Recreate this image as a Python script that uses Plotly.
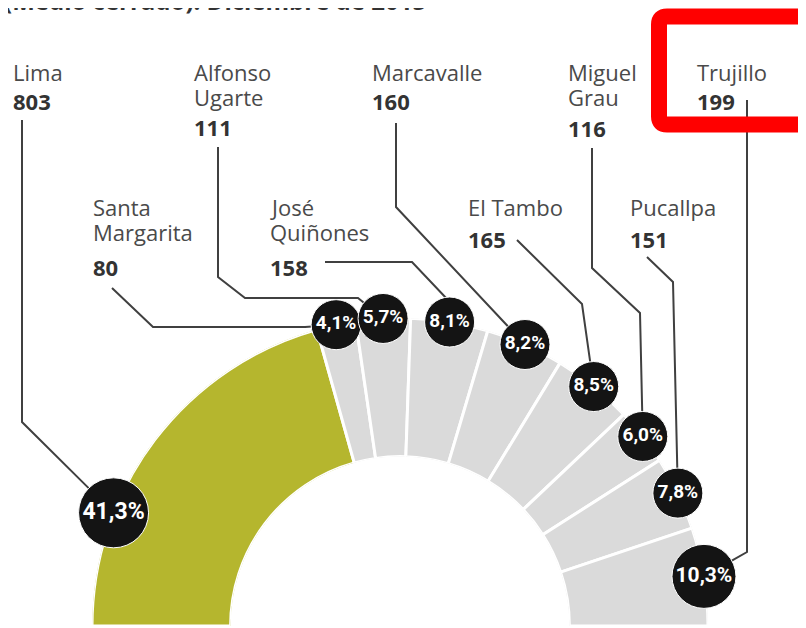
import math
import plotly.graph_objects as go

# Oficinas "Medio cerrado", diciembre de 2015
offices = ["Lima", "Santa Margarita", "Alfonso Ugarte", "José Quiñones", "Marcavalle",
           "El Tambo", "Miguel Grau", "Pucallpa", "Trujillo"]
name_lines = [["Lima"], ["Santa", "Margarita"], ["Alfonso", "Ugarte"], ["José", "Quiñones"],
              ["Marcavalle"], ["El Tambo"], ["Miguel", "Grau"], ["Pucallpa"], ["Trujillo"]]
counts = [803, 80, 111, 158, 160, 165, 116, 151, 199]
shares = [41.3, 4.1, 5.7, 8.1, 8.2, 8.5, 6.0, 7.8, 10.3]

W, H = 806, 628
PAD = 8  # the page body margin shifts the figure by this much
# donut geometry in page pixels (centre sits on the bottom edge)
CX, CY, RAD = 400, 626, 308
GREEN = "#b5b62e"
GREY = "#dadada"

share_text = [f"<b>{s:.1f}%</b>".replace(".", ",") for s in shares]
deg = [s * 1.8 for s in shares]
starts = [sum(deg[:i]) for i in range(len(deg))]
# where along its slice each badge sits
badge_frac = [0.29, 0.5, 0.5, 0.5, 0.5, 0.5, 0.5, 0.5, 0.5]
badge_theta = [a + d * f for a, d, f in zip(starts, deg, badge_frac)]
badge_size = [70, 50, 50, 50, 50, 50, 50, 50, 64]
badge_font = [23, 19, 19, 19, 19, 19, 19, 19, 21]

# label placement (page px): x, first name line y, number y, leader route before the badge
label_pos = {
    "Lima": (13, 72, 101, [(22, 120), (22, 422)]),
    "Santa Margarita": (93, 207, 267, [(112, 288), (153, 327), (305, 327)]),
    "Alfonso Ugarte": (194, 72, 127, [(218, 147), (218, 277), (245, 298), (358, 298)]),
    "José Quiñones": (270, 207, 267, [(325, 262), (412, 262), (448, 300)]),
    "Marcavalle": (372, 72, 101, [(396, 123), (396, 207)]),
    "El Tambo": (468, 207, 239, [(517, 240), (582, 304)]),
    "Miguel Grau": (568, 72, 128, [(592, 148), (592, 268), (640, 313)]),
    "Pucallpa": (630, 207, 239, [(647, 257), (673, 282)]),
    "Trujillo": (697, 72, 101, [(747, 100), (747, 552)]),
}


def badge_xy(theta):
    a = math.radians(180 - theta)
    return CX + RAD * math.cos(a), CY - RAD * math.sin(a)


fig = go.Figure()

# leader lines, stopping at the badge rim
for office, th, sz in zip(offices, badge_theta, badge_size):
    route = label_pos[office][3]
    bx, by = badge_xy(th)
    lx, ly = route[-1]
    d = math.hypot(bx - lx, by - ly)
    k = (d - sz / 2 + 1) / d
    pts = route + [(lx + (bx - lx) * k, ly + (by - ly) * k)]
    fig.add_trace(go.Scatter(
        x=[p[0] for p in pts], y=[p[1] for p in pts],
        mode="lines", line=dict(color="#404040", width=2),
        hoverinfo="skip", showlegend=False,
    ))

fig.add_trace(go.Barpolar(
    r=[1] * len(shares),
    theta=[a + d / 2 for a, d in zip(starts, deg)],
    width=deg,
    marker=dict(color=[GREEN] + [GREY] * (len(shares) - 1),
                line=dict(color="white", width=3)),
    customdata=counts,
    text=offices,
    hovertemplate="%{text}: %{customdata}<extra></extra>",
    showlegend=False,
))

fig.add_trace(go.Scatterpolar(
    r=[1] * len(shares),
    theta=badge_theta,
    mode="markers+text",
    marker=dict(size=badge_size, color="#141414", opacity=1),
    text=share_text,
    textposition="middle center",
    textfont=dict(size=badge_font, color="white", family="Roboto"),
    cliponaxis=False,
    hoverinfo="skip",
    showlegend=False,
))

annotations = []
for office, lines, n in zip(offices, name_lines, counts):
    x, y0, yn, _ = label_pos[office]
    for i, ln in enumerate(lines):
        annotations.append(dict(
            x=x - 2, y=y0 + 25 * i, xref="x", yref="y", text=ln, showarrow=False,
            xanchor="left", yanchor="middle",
            font=dict(family="Open Sans", size=22, color="#4a4a4a"),
        ))
    annotations.append(dict(
        x=x - 2, y=yn, xref="x", yref="y", text=f"<b>{n}</b>", showarrow=False,
        xanchor="left", yanchor="middle",
        font=dict(family="Open Sans", size=22, color="#333333"),
    ))

# subtitle clipped at the top edge
annotations.append(dict(
    x=0, y=1, xref="paper", yref="paper", xanchor="left", yanchor="bottom",
    xshift=-6, yshift=-11, showarrow=False,
    text="<b>(Medio cerrado). Diciembre de 2015</b>",
    font=dict(family="Open Sans", size=24, color="#333333"),
))

fig.update_layout(
    width=W, height=H,
    margin=dict(l=0, r=0, t=0, b=0),
    paper_bgcolor="white",
    plot_bgcolor="white",
    # axes in page pixels
    xaxis=dict(range=[PAD, W + PAD], visible=False, fixedrange=True),
    yaxis=dict(range=[H + PAD, PAD], visible=False, fixedrange=True),
    polar=dict(
        domain=dict(x=[(CX - PAD - RAD) / W, (CX - PAD + RAD) / W],
                    y=[(H + PAD - CY) / H, (H + PAD - CY + RAD) / H]),
        sector=[0, 180],
        hole=0.55,
        bargap=0,
        bgcolor="rgba(0,0,0,0)",
        radialaxis=dict(visible=False, range=[0, 1]),
        angularaxis=dict(visible=False, direction="clockwise", rotation=180),
    ),
    annotations=annotations,
    shapes=[dict(
        type="path", xref="x", yref="y",
        path=("M 667 16.5 L 798 16.5 Q 806 16.5 806 24.5 L 806 116.5 Q 806 124.5 798 124.5 "
              "L 667 124.5 Q 659 124.5 659 116.5 L 659 24.5 Q 659 16.5 667 16.5 Z"),
        line=dict(color="#ff0000", width=16),
    )],
)

fig.write_html("out.html")
